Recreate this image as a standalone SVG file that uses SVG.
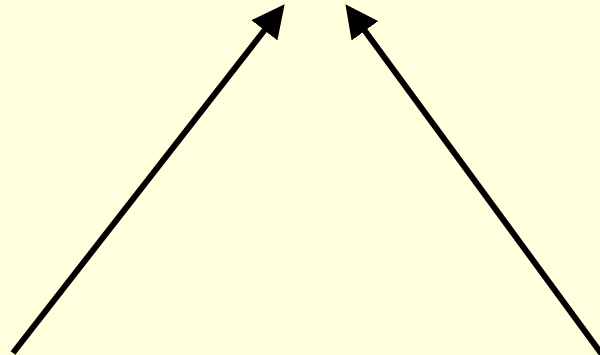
<svg xmlns="http://www.w3.org/2000/svg" width="600" height="355" viewBox="0 0 600 355">
<style>
.conn{stroke:#000;stroke-width:6;fill:none;marker-end:url(#head)}
</style>
<defs>
<marker id="head" markerUnits="userSpaceOnUse" markerWidth="33" markerHeight="33" refX="1" refY="16" orient="auto" viewBox="0 0 32 32">
<path d="M0,0 L32,16 L0,32 z" fill="#000"/>
</marker>
</defs>
<rect width="600" height="355" fill="#ffffdd"/>
<g id="connectors">
<path class="conn" d="M13,353 L265,29.5"/>
<path class="conn" d="M606,360 L364.3,30"/>
</g>
</svg>
